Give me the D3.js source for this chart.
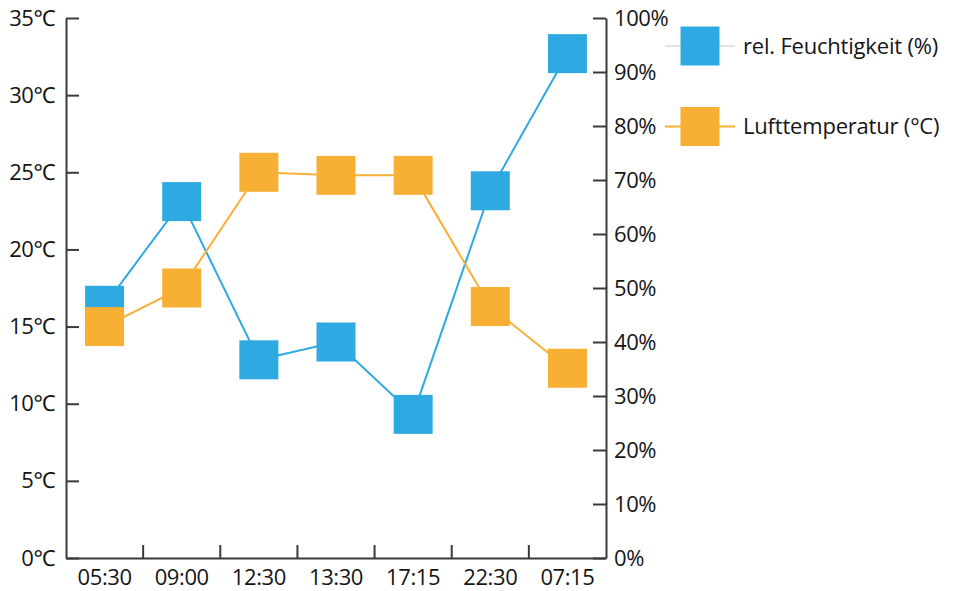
<!DOCTYPE html>
<html>
<head>
<meta charset="utf-8">
<script src="https://cdn.jsdelivr.net/npm/d3@7"></script>
<style>
  html, body { margin: 0; padding: 0; background: #fff; }
  svg { display: block; }
  text { font-family: "Open Sans", "Noto Sans", sans-serif; fill: #151515; }
</style>
</head>
<body>
<svg id="chart" width="965" height="591"></svg>
<script>
// Messzeitpunkte
const times = ["05:30", "09:00", "12:30", "13:30", "17:15", "22:30", "07:15"];
// relative Luftfeuchtigkeit in %
const humidity = [46.8, 66, 36.7, 40, 26.6, 68, 93.4];
// Lufttemperatur in °C
const temperature = [15, 17.5, 25, 24.8, 24.8, 16.3, 12.3];
// Achsenbeschriftungen
const tempTicks = [0, 5, 10, 15, 20, 25, 30, 35];
const humTicks = [0, 10, 20, 30, 40, 50, 60, 70, 80, 90, 100];
const seriesNames = ["rel. Feuchtigkeit (%)", "Lufttemperatur (°C)"];

const BLUE = "#2ea9e1";
const ORANGE = "#f7b033";
const AXIS = "#3a3a3a";
const FONT_SIZE = "22px";

const svg = d3.select("#chart");
const plotLeft = 66, plotRight = 606, plotTop = 18, plotBottom = 558;
const sq = 39;

const x = d3.scaleBand().domain(times).range([plotLeft, plotRight]);
const yT = d3.scaleLinear().domain([0, 35]).range([plotBottom, plotTop]);
const yH = d3.scaleLinear().domain([0, 100]).range([plotBottom, plotTop]);

function styleAxis(g) {
  g.selectAll("path.domain").attr("stroke", AXIS).attr("stroke-width", 2);
  g.selectAll(".tick line").attr("stroke", AXIS).attr("stroke-width", 2);
  g.selectAll(".tick text").attr("fill", "#151515")
    .style("font-family", '"Open Sans", "Noto Sans", sans-serif')
    .style("font-size", FONT_SIZE)
    .style("letter-spacing", "-0.4px");
}

// linke Achse: Temperatur
svg.append("g")
  .attr("transform", `translate(${plotLeft},0)`)
  .call(d3.axisLeft(yT).tickValues(tempTicks).tickSize(-13).tickSizeOuter(0)
    .tickPadding(11).tickFormat(d => d + "℃"))
  .call(styleAxis);

// rechte Achse: Feuchtigkeit
svg.append("g")
  .attr("transform", `translate(${plotRight},0)`)
  .call(d3.axisRight(yH).tickValues(humTicks).tickSize(-13).tickSizeOuter(0)
    .tickPadding(8).tickFormat(d => d + "%"))
  .call(styleAxis);

// x-Achse mit Trennstrichen zwischen den Zeitpunkten
const xAxisG = svg.append("g")
  .attr("transform", `translate(0,${plotBottom})`)
  .call(d3.axisBottom(x).tickSize(0).tickSizeOuter(0).tickPadding(11))
  .call(styleAxis);
xAxisG.selectAll("line.sep")
  .data(times.slice(1))
  .join("line")
  .attr("class", "sep")
  .attr("x1", d => x(d)).attr("x2", d => x(d))
  .attr("y1", 0).attr("y2", -13)
  .attr("stroke", AXIS).attr("stroke-width", 2);

const cx = d => x(d) + x.bandwidth() / 2;

function drawSeries(values, yScale, color) {
  const pts = times.map((t, i) => [cx(t), yScale(values[i])]);
  const g = svg.append("g");
  g.append("path")
    .attr("d", d3.line()(pts))
    .attr("fill", "none")
    .attr("stroke", color)
    .attr("stroke-width", 2);
  g.selectAll("rect")
    .data(pts)
    .join("rect")
    .attr("x", d => d[0] - sq / 2)
    .attr("y", d => d[1] - sq / 2)
    .attr("width", sq)
    .attr("height", sq)
    .attr("fill", color);
}

drawSeries(humidity, yH, BLUE);
drawSeries(temperature, yT, ORANGE);

// Legende
const legend = [
  { name: seriesNames[0], color: BLUE, line: "#e2e2e2", y: 46 },
  { name: seriesNames[1], color: ORANGE, line: ORANGE, y: 126.5 }
];
const lg = svg.append("g");
legend.forEach(l => {
  lg.append("line")
    .attr("x1", 665).attr("x2", 735)
    .attr("y1", l.y).attr("y2", l.y)
    .attr("stroke", l.line).attr("stroke-width", 2);
  lg.append("rect")
    .attr("x", 700 - sq / 2).attr("y", l.y - sq / 2)
    .attr("width", sq).attr("height", sq)
    .attr("fill", l.color);
  lg.append("text")
    .attr("x", 743).attr("y", l.y)
    .attr("dy", "0.35em")
    .style("font-size", FONT_SIZE)
    .style("letter-spacing", "-0.2px")
    .text(l.name);
});
</script>
</body>
</html>
